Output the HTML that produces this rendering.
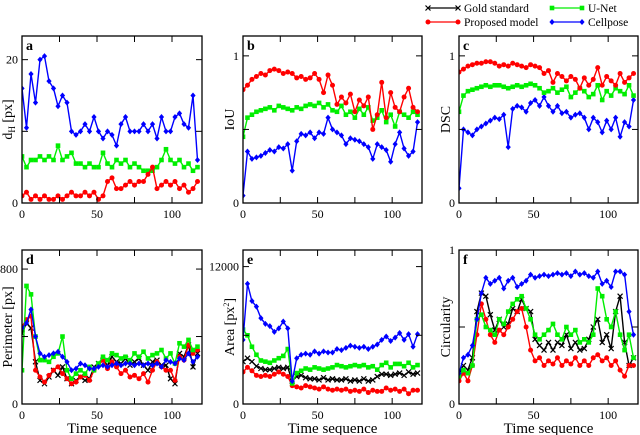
<!DOCTYPE html>
<html><head><meta charset="utf-8">
<style>
body{margin:0;background:#fff;}
svg{display:block;}
svg text{font-family:"Liberation Serif","Times New Roman",serif;}
</style></head>
<body>
<svg id="chart" width="640" height="435" viewBox="0 0 640 435" font-family="Liberation Serif, serif"></svg>
<script>
const timeSteps = [0,3,6,9,12,15,18,21,24,27,30,33,36,39,42,45,48,51,54,57,60,63,66,69,72,75,78,81,84,87,90,93,96,99,102,105,108,111,114,117];
const seriesNames = ["Gold standard","Proposed model","U-Net","Cellpose"];
const xTicks = [0,25,50,75,100];
const xTickLabels = ["0","","50","","100"];

const dhProposed = [1,1.5,0.5,1,0.5,1,0.5,0.5,1,0.5,1,1.5,1,1,1.5,1,1.5,0.5,1,3,3.5,2,2,2.5,3,2.5,3,3,4,5,2,2.5,3,2.5,3,2,2.5,1.5,2,3];
const dhUnet = [6.5,5,6,6,6.5,6,6.5,6,8,6,6.5,7,5.5,5.5,5,5.5,5,5,7,5.5,5,6,5.5,6,5,5.5,5,4.5,4.5,4.5,5,6,7.5,6,5.5,6,5,5.5,4.5,5];
const dhCellpose = [16,10.5,18,14,20,20.5,17,16,13.5,15,14,10,9.5,10,11,10,12,10,9,10,9.5,8,11,12,10,10,10,11,10,11,9,12,10,10,12,12.5,11,10.5,15,6];

const iouProposed = [0.77,0.80,0.84,0.86,0.88,0.87,0.90,0.91,0.90,0.88,0.89,0.88,0.85,0.86,0.84,0.85,0.88,0.84,0.75,0.87,0.80,0.67,0.72,0.68,0.74,0.62,0.70,0.66,0.72,0.50,0.60,0.82,0.58,0.75,0.65,0.62,0.72,0.78,0.65,0.62];
const iouUnet = [0.45,0.58,0.60,0.62,0.63,0.64,0.65,0.63,0.66,0.65,0.64,0.63,0.65,0.64,0.66,0.67,0.66,0.68,0.65,0.67,0.63,0.62,0.66,0.60,0.62,0.58,0.64,0.60,0.65,0.56,0.58,0.63,0.55,0.60,0.52,0.62,0.60,0.58,0.62,0.60];
const iouCellpose = [0.05,0.35,0.30,0.31,0.32,0.34,0.36,0.35,0.38,0.37,0.40,0.22,0.42,0.47,0.46,0.48,0.44,0.48,0.47,0.58,0.50,0.48,0.46,0.40,0.44,0.43,0.42,0.40,0.38,0.30,0.40,0.38,0.36,0.28,0.40,0.48,0.37,0.32,0.35,0.55];

const dscProposed = [0.89,0.91,0.93,0.94,0.95,0.95,0.96,0.96,0.95,0.93,0.94,0.93,0.95,0.94,0.93,0.92,0.94,0.93,0.92,0.88,0.90,0.82,0.88,0.86,0.83,0.86,0.84,0.78,0.85,0.80,0.84,0.92,0.80,0.86,0.83,0.80,0.88,0.82,0.85,0.88];
const dscUnet = [0.62,0.73,0.76,0.77,0.78,0.79,0.80,0.79,0.80,0.80,0.79,0.78,0.79,0.80,0.79,0.80,0.81,0.80,0.78,0.75,0.76,0.78,0.75,0.77,0.79,0.72,0.75,0.78,0.76,0.72,0.74,0.80,0.70,0.76,0.73,0.78,0.76,0.74,0.80,0.73];
const dscCellpose = [0.10,0.50,0.48,0.46,0.50,0.52,0.54,0.56,0.58,0.57,0.60,0.38,0.64,0.66,0.65,0.62,0.68,0.70,0.66,0.72,0.66,0.62,0.66,0.61,0.62,0.58,0.60,0.61,0.58,0.50,0.58,0.55,0.48,0.56,0.50,0.58,0.45,0.55,0.52,0.70];

const perGold = [420,480,450,250,140,120,160,200,170,220,150,120,140,160,140,150,220,240,260,230,280,250,240,270,230,250,270,230,200,250,260,230,230,150,120,300,280,350,220,300];
const perProposed = [460,500,520,200,160,130,170,200,220,180,150,120,130,160,170,140,200,230,260,210,250,220,180,200,160,170,150,180,130,200,250,220,200,200,140,280,260,350,300,320];
const perUnet = [200,700,650,400,260,260,250,280,300,400,200,150,180,200,180,220,200,240,280,260,300,290,270,280,260,300,280,310,270,290,300,320,270,300,240,360,340,380,320,340];
const perCellpose = [450,480,560,400,300,280,290,300,310,280,250,200,210,240,230,210,210,220,230,220,230,240,230,240,240,230,240,230,240,230,240,220,260,250,240,270,260,300,250,280];

const areaGold = [3700,4000,3700,3300,3100,3000,3000,3100,3200,3100,3200,2000,2400,2500,2300,2200,2200,2100,2300,2100,2200,2100,2100,2200,2000,2100,2000,2200,2000,2100,2400,2600,2600,2500,2600,2700,2500,2800,2600,2700];
const areaProposed = [2800,3200,2900,2500,2400,2500,2400,2600,2800,2600,2400,1600,1500,1400,1600,1500,1400,1300,1500,1300,1200,1300,1200,1300,1100,1200,1100,1300,1000,1200,1100,1100,1400,1200,1300,1100,1300,900,1200,1200];
const areaUnet = [6500,6000,5000,4300,3800,3700,3600,3800,4000,4200,4800,1800,2700,2900,3100,3000,3200,3100,3000,3100,3200,3400,3300,3200,3300,3400,3300,3400,3200,3300,3000,3400,3600,3200,3500,3500,3300,3600,3200,3400];
const areaCellpose = [5600,10500,9000,8500,7500,7000,6800,6300,6600,7200,6600,2000,4000,4300,4400,4300,4600,4400,4600,4500,4500,4800,4700,4900,5100,5000,4900,5000,4800,5000,5200,5600,5900,5500,5800,6200,5600,6100,5000,6100];

const circGold = [0.20,0.25,0.22,0.30,0.60,0.72,0.70,0.58,0.48,0.55,0.50,0.52,0.62,0.60,0.68,0.62,0.60,0.42,0.38,0.35,0.40,0.35,0.40,0.38,0.45,0.36,0.40,0.35,0.36,0.42,0.50,0.55,0.40,0.45,0.36,0.60,0.70,0.40,0.25,0.30];
const circProposed = [0.15,0.20,0.15,0.25,0.45,0.65,0.55,0.45,0.40,0.48,0.45,0.50,0.55,0.60,0.62,0.50,0.35,0.28,0.30,0.25,0.28,0.26,0.30,0.25,0.28,0.26,0.30,0.25,0.28,0.25,0.30,0.32,0.28,0.30,0.25,0.28,0.22,0.18,0.25,0.25];
const circUnet = [0.18,0.22,0.20,0.25,0.55,0.58,0.50,0.48,0.45,0.55,0.52,0.60,0.65,0.68,0.70,0.62,0.55,0.45,0.42,0.45,0.48,0.52,0.45,0.42,0.50,0.45,0.48,0.40,0.42,0.40,0.45,0.75,0.70,0.55,0.50,0.60,0.45,0.35,0.45,0.30];
const circCellpose = [0.20,0.30,0.32,0.38,0.55,0.72,0.82,0.78,0.80,0.82,0.75,0.80,0.82,0.76,0.78,0.80,0.84,0.82,0.83,0.84,0.83,0.84,0.85,0.84,0.85,0.83,0.86,0.84,0.85,0.83,0.82,0.86,0.78,0.80,0.76,0.86,0.86,0.84,0.60,0.45];

const NS = "http://www.w3.org/2000/svg";
const svg = document.getElementById("chart");
const COLORS = {gold:"#000000", proposed:"#ff0000", unet:"#00ee00", cellpose:"#0000ff"};
const XMAX = 120;
const FONT = "'Liberation Serif', 'Times New Roman', serif";

function el(tag, attrs, parent){
  const e = document.createElementNS(NS, tag);
  for (const k in attrs) e.setAttribute(k, attrs[k]);
  if (tag === "text") e.setAttribute("font-family", FONT);
  (parent||svg).appendChild(e);
  return e;
}

function marker(g, kind, x, y, color){
  let m;
  if (kind === "gold"){
    m = el("path",{d:`M${x-2.5},${y-2.5}L${x+2.5},${y+2.5}M${x-2.5},${y+2.5}L${x+2.5},${y-2.5}`,stroke:color,"stroke-width":1.2,fill:"none"},g);
  } else if (kind === "proposed"){
    m = el("circle",{cx:x,cy:y,r:2.5,fill:color},g);
  } else if (kind === "unet"){
    m = el("rect",{x:x-2.3,y:y-2.3,width:4.6,height:4.6,fill:color},g);
  } else {
    m = el("path",{d:`M${x},${y-3}L${x+2.6},${y}L${x},${y+3}L${x-2.6},${y}Z`,fill:color},g);
  }
  
  
}

function panel(cfg){
  const {L,R,T,B,ymax,yTicks,yLabels,letter,title,series,name} = cfg;
  const g = el("g",{});
  
  
  const sx = v => L + (R-L)*v/XMAX;
  const sy = v => B - (B-T)*v/ymax;
  const clip = el("clipPath",{id:"clip-"+letter},g);
  el("rect",{x:L,y:T,width:R-L,height:B-T},clip);
  const plot = el("g",{"clip-path":`url(#clip-${letter})`},g);
  series.forEach(s=>{
    const sg = el("g",{},plot);
    
    
    const pts = s.data.map((v,i)=>`${sx(timeSteps[i]).toFixed(1)},${sy(v).toFixed(1)}`).join(" ");
    el("polyline",{points:pts,fill:"none",stroke:COLORS[s.kind],"stroke-width":1.4},sg);
    s.data.forEach((v,i)=>marker(sg,s.kind,sx(timeSteps[i]),sy(v),COLORS[s.kind]));
  });
  const frame = el("rect",{x:L,y:T,width:R-L,height:B-T,fill:"none",stroke:"#000","stroke-width":1.3},g);
  
  
  xTicks.forEach((t,i)=>{
    const x = sx(t);
    el("line",{x1:x,y1:B,x2:x,y2:B-6,stroke:"#000","stroke-width":1},g);
    el("line",{x1:x,y1:T,x2:x,y2:T+6,stroke:"#000","stroke-width":1},g);
    if (xTickLabels[i]){
      const tl = el("text",{x:x,y:B+15,"font-size":12,"text-anchor":"middle"},g);
      tl.textContent = xTickLabels[i];
      
      
    }
  });
  yTicks.forEach((t,i)=>{
    const y = sy(t);
    el("line",{x1:L,y1:y,x2:L+6,y2:y,stroke:"#000","stroke-width":1},g);
    el("line",{x1:R,y1:y,x2:R-6,y2:y,stroke:"#000","stroke-width":1},g);
    if (yLabels[i]){
      const tl = el("text",{x:L-4,y:y+4,"font-size":12,"text-anchor":"end"},g);
      tl.textContent = yLabels[i];
      
      
    }
  });
  const lt = el("text",{x:L+4,y:T+14,"font-size":14,"font-weight":"bold"},g);
  lt.textContent = letter;
  
  
  const yc = (T+B)/2;
  const tx = cfg.titleX;
  const tt = el("text",{x:tx,y:yc,"font-size":14,"text-anchor":"middle",transform:`rotate(-90 ${tx} ${yc})`},g);
  tt.innerHTML = title;
  
  
  if (cfg.xTitle){
    const xt = el("text",{x:(L+R)/2,y:B+29,"font-size":15,"text-anchor":"middle"},g);
    xt.textContent = "Time sequence";
    
    
  }
}

const topRow = {T:36,B:203}, botRow = {T:250,B:404};
const cols = [{L:22,R:202,tx:12},{L:243,R:422,tx:234},{L:459,R:638,tx:450}];

panel({name:"panel-a-hausdorff",L:cols[0].L,R:cols[0].R,T:topRow.T,B:topRow.B,ymax:23.3,yTicks:[0,10,20],yLabels:["0","","20"],letter:"a",titleX:cols[0].tx,
  title:'d<tspan font-size="9" dy="3">H</tspan><tspan dy="-3"> [px]</tspan>',
  series:[{kind:"cellpose",data:dhCellpose},{kind:"unet",data:dhUnet},{kind:"proposed",data:dhProposed}]});
panel({name:"panel-b-iou",L:cols[1].L,R:cols[1].R,T:topRow.T,B:topRow.B,ymax:1.135,yTicks:[0,0.5,1],yLabels:["0","","1"],letter:"b",titleX:cols[1].tx,title:"IoU",
  series:[{kind:"cellpose",data:iouCellpose},{kind:"unet",data:iouUnet},{kind:"proposed",data:iouProposed}]});
panel({name:"panel-c-dsc",L:cols[2].L,R:cols[2].R,T:topRow.T,B:topRow.B,ymax:1.135,yTicks:[0,0.5,1],yLabels:["0","","1"],letter:"c",titleX:cols[2].tx,title:"DSC",
  series:[{kind:"cellpose",data:dscCellpose},{kind:"unet",data:dscUnet},{kind:"proposed",data:dscProposed}]});
panel({name:"panel-d-perimeter",L:cols[0].L,R:cols[0].R,T:botRow.T,B:botRow.B,ymax:913,yTicks:[0,400,800],yLabels:["0","","800"],letter:"d",titleX:cols[0].tx,title:"Perimeter [px]",xTitle:true,
  series:[{kind:"gold",data:perGold},{kind:"proposed",data:perProposed},{kind:"unet",data:perUnet},{kind:"cellpose",data:perCellpose}]});
panel({name:"panel-e-area",L:cols[1].L,R:cols[1].R,T:botRow.T,B:botRow.B,ymax:13450,yTicks:[0,6000,12000],yLabels:["0","","12000"],letter:"e",titleX:cols[1].tx,
  title:'Area [px<tspan font-size="8" dy="-5">2</tspan><tspan dy="5">]</tspan>',xTitle:true,
  series:[{kind:"gold",data:areaGold},{kind:"proposed",data:areaProposed},{kind:"unet",data:areaUnet},{kind:"cellpose",data:areaCellpose}]});
panel({name:"panel-f-circularity",L:cols[2].L,R:cols[2].R,T:botRow.T,B:botRow.B,ymax:1,yTicks:[0,0.5,1],yLabels:["0","","1"],letter:"f",titleX:cols[2].tx,title:"Circularity",xTitle:true,
  series:[{kind:"gold",data:circGold},{kind:"proposed",data:circProposed},{kind:"unet",data:circUnet},{kind:"cellpose",data:circCellpose}]});

const lg = el("g",{});


const legendKinds = ["gold","proposed","unet","cellpose"];
const legendPos = [[428,8],[428,22],[552,8],[552,22]];
legendKinds.forEach((k,i)=>{
  const [x,y] = legendPos[i];
  const eg = el("g",{},lg);
  
  
  el("line",{x1:x,y1:y,x2:x+30,y2:y,stroke:COLORS[k],"stroke-width":1.3},eg);
  marker(eg,k,x,y,COLORS[k]);
  marker(eg,k,x+30,y,COLORS[k]);
  const t = el("text",{x:x+36,y:y+4,"font-size":11.5},eg);
  t.textContent = seriesNames[i];
});
</script>
</body></html>
